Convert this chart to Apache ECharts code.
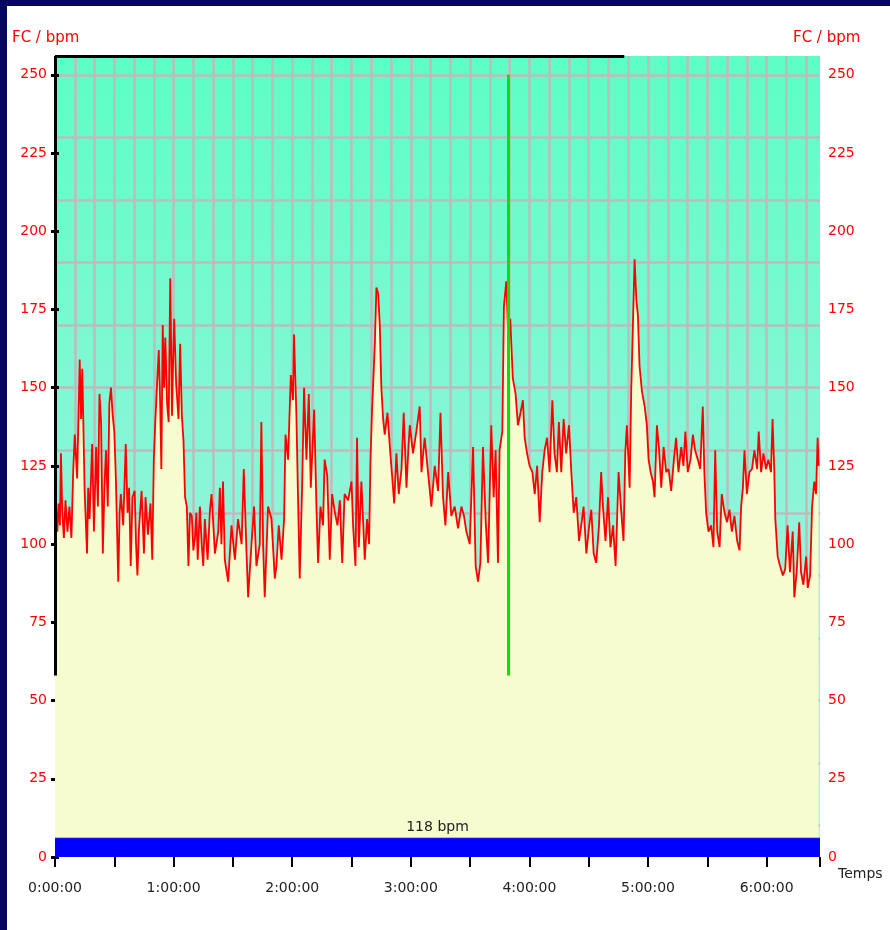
<!DOCTYPE html>
<html><head><meta charset="utf-8">
<script src="https://cdn.jsdelivr.net/npm/echarts@6/dist/echarts.min.js"></script>
<style>
html,body{margin:0;padding:0;background:#fff;}
#wrap{position:relative;width:890px;height:930px;background:#fff;overflow:hidden;}
#chart{position:absolute;left:0;top:0;width:890px;height:930px;}
.navyL{position:absolute;left:0;top:0;width:7px;height:930px;background:#06065e;}
.navyT{position:absolute;left:0;top:0;width:890px;height:6px;background:#06065e;}
</style></head>
<body><div id="wrap"><div id="chart"></div><div class="navyL"></div><div class="navyT"></div></div>
<script>
// ---- data (time in minutes, heart rate in bpm) ----
const timeMin = [
  // 0:00 - 1:16
  0,0.5,1.2,1.8,2.5,3,3.7,4.5,5.3,6.3, 7.3,8.3,9.2,10,11.2,12.5,13.2,13.8,15,16.2,
  16.8,17.5,18.8,19.7,20.8,21.7,22.5,23.3,24.2,25, 25.8,26.7,27.5,28.3,29.2,30,30.8,32,32.7,33.3,
  34.5,35.8,36.7,37.5,38.3,39.2,40.3,41,41.7,42.5, 43.8,45,45.8,47,48.3,49.2,50,50.8,51.7,52.5,
  53.2,53.8,54.5,55.2,55.8,56.7,57.5,58.3,59.2,59.8, 60.3,61.3,62.5,63.3,64.2,65,65.8,66.7,67.5,68.3,
  69.2,70,70.8,71.5,72.2,73.3,74.2,75,75.8,
  // 1:17 - 2:59
  77.2,78.4,79.2,80.9,82.6,83.4,84.2,85,85.9,87.6, 89.3,91,92.6,94.4,95.5,96.9,97.7,99.4,100.7,101.9,
  103.6,104.4,105.3,106.1,107.8,109.5,111.2,112,113.2,114.6, 115.9,116.6,117.9,119.3,120.4,120.9,122.1,122.9,123.8,125,
  126,127.2,128.4,129.4,131.1,132.3,133.1,134.3,135.6,136.4, 137.7,139,140.2,141.6,142.9,144.1,145.3,146.5,148.3,150,
  150.8,152,152.8,153.7,155,156.7,157.9,158.9,159.6,160.4, 161.8,162.6,163.5,164.3,165.1,166,166.8,168.2,169.4,170.5,
  171.6,172.7,173.9,175.3,176.4,177.8,178.9,
  // 3:00 - 4:44
  179.5,181.1,182.8,184.5,185.4,187,188.7,190.4,192.1,193.8, 195,196.3,197.5,198.9,200.5,202.2,203.9,205.6,206.9,208.1,
  209.8,211.5,212.8,214,215.2,216.5,217.9,219.1,220.7,221.9, 222.9,224.1,224.9,226.3,227.1,228.3,229.3,230.3,231.6,233,
  234.2,235.5,236.7,237.6,238.8,240.1,241.5,242.7,243.9,245.2, 246.5,247.7,248.9,250.2,251.6,252.7,253.9,254.9,256.1,257.3,
  258.6,260,261.2,262.4,263.7,265.1,266.2,267.4,268.8,270.1, 271.3,272.5,273.8,275.2,276.3,277.2,278.5,279.8,281,282.3,
  283.6,
  // 4:45 - 6:26
  285.1,286.5,287.6,288.5,289.3,290.7,291.5,292.4,293.2,294.1, 294.9,295.7,296.9,298.3,299.4,300.3,301.3,302.5,303.3,304.5,
  305.5,306.7,307.9,309.2,310.4,311.7,313.1,314.2,315.4,316.8, 317.9,318.9,320.1,321.5,322.7,323.8,325.2,326.4,327.7,328.5,
  329.4,330.6,331.9,333.1,334,335,336.2,337.3,338.7,340, 341.2,342.4,343.7,345.1,346.3,347.1,348,348.8,350,351.3,
  352.6,353.8,355.2,356,357.2,358.4,359.7,360.9,362.2,363, 363.9,364.4,365.6,366.8,368.2,369.4,370.6,371.8,373.2,374,
  375.2,376.5,377.4,378.6,380,380.8,382,383,384.1,385, 385.8,386.3
];
const heartRate = [
  95,112,104,113,106,129,110,102,114,104, 112,102,123,135,121,159,140,156,117,97,
  118,108,132,104,131,112,148,139,97,118, 130,112,145,150,141,136,121,88,110,116,
  106,132,110,118,93,115,117,100,90,105, 117,97,115,103,113,95,127,140,152,162,
  145,124,170,150,166,145,139,185,141,160, 172,151,140,164,141,133,115,112,93,110,
  109,98,102,110,95,112,100,93,108,
  95,111,116,97,104,118,100,120,95,88, 106,95,108,100,124,97,83,100,112,93,
  100,139,99,83,112,108,89,93,106,95, 108,135,127,154,146,167,142,116,89,118,
  150,127,148,118,143,111,94,112,106,127, 122,95,116,110,106,114,94,116,114,120,
  106,93,134,99,120,95,108,100,127,143, 164,182,180,170,150,140,135,142,131,122,
  113,129,116,124,142,118,132,
  138,129,136,144,123,134,123,112,125,117, 142,115,106,123,109,112,105,112,109,104,
  100,131,93,88,94,131,107,94,138,115, 130,94,130,136,176,184,166,172,153,148,
  138,142,146,134,129,125,123,116,125,107, 123,130,134,123,146,129,123,139,123,140,
  129,138,123,110,115,101,106,112,97,105, 111,97,94,106,123,112,101,115,99,106,
  93,
  123,110,101,129,138,118,149,171,191,178, 173,157,149,144,138,127,123,120,115,138,
  131,118,131,123,124,117,127,134,123,131, 125,136,123,127,135,130,127,124,144,123,
  110,104,106,99,130,104,99,116,110,107, 111,104,109,101,98,112,118,130,116,123,
  124,130,124,136,123,129,124,127,123,140, 123,108,96,93,90,92,106,91,104,83,
  91,107,91,87,96,86,90,112,120,116, 134,125
];
const yTicks = [0,25,50,75,100,125,150,175,200,225,250];
const xTickMinutes = [0,30,60,90,120,150,180,210,240,270,300,330,360,387];
const xLabelMinutes = [0,60,120,180,240,300,360];
const yAxisTitle = 'FC / bpm';
const xAxisTitle = 'Temps';
const averageLabel = '118 bpm';
const cursorMinute = 229.5;   // green cursor
const cursorLow = 58;         // lower end of cursor / left marker
const cursorHigh = 250;
const topMarkerEnd = 288;     // end of black top marker
const xMax = 387, yMax = 256;
const bandTop = 6;

const hrPoints = timeMin.map((t, i) => [t, heartRate[i]]);
const pad = n => String(n).padStart(2, '0');
const fmt = v => Math.floor(v / 60) + ':' + pad(Math.round(v % 60)) + ':00';
const font = 'DejaVu Sans';
const gridGray = '#bcbcbc';

const chart = echarts.init(document.getElementById('chart'), null, {renderer: 'canvas'});
chart.setOption({
  animation: false,
  title: [
    {text: yAxisTitle, left: 12, top: 31, padding: 0, textStyle: {color: '#ff0000', fontFamily: font, fontSize: 15, fontWeight: 'normal'}},
    {text: yAxisTitle, left: 793, top: 31, padding: 0, textStyle: {color: '#ff0000', fontFamily: font, fontSize: 15, fontWeight: 'normal'}}
  ],
  grid: {
    left: 55, right: 70, top: 56, bottom: 73, show: true, borderWidth: 0,
    backgroundColor: new echarts.graphic.LinearGradient(0, 0, 0, 1, [
      {offset: 0, color: '#5cffc5'}, {offset: 0.55, color: '#8cf5d8'}, {offset: 1, color: '#bff3e8'}
    ])
  },
  xAxis: [{
    type: 'value', min: 0, max: xMax, position: 'bottom',
    axisLine: {show: false},
    axisTick: {show: true, customValues: xTickMinutes, length: 10, lineStyle: {color: '#000', width: 2}},
    axisLabel: {customValues: xLabelMinutes, formatter: fmt, color: '#222', fontFamily: font, fontSize: 14, margin: 24},
    splitLine: {show: false},
    name: xAxisTitle, nameLocation: 'end', nameGap: 18,
    nameTextStyle: {color: '#222', fontFamily: font, fontSize: 14, verticalAlign: 'top', padding: [10, 0, 0, 0]}
  }, {
    type: 'value', min: 0, max: xMax, interval: 10, position: 'top',
    axisLine: {show: false}, axisTick: {show: false}, axisLabel: {show: false},
    splitLine: {show: true, showMinLine: false, showMaxLine: false, lineStyle: {color: gridGray, width: 2.5}}
  }],
  yAxis: [{
    type: 'value', min: 0, max: yMax, position: 'left',
    axisLine: {show: false},
    axisTick: {show: true, customValues: yTicks, length: 4, lineStyle: {color: '#000', width: 3}},
    axisLabel: {customValues: yTicks, color: '#ff0000', fontFamily: font, fontSize: 14, margin: 8},
    splitLine: {show: false}
  }, {
    type: 'value', min: 0, max: yMax, position: 'right',
    axisLine: {show: false},
    axisTick: {show: true, customValues: yTicks, length: 4, lineStyle: {color: '#000', width: 3}},
    axisLabel: {customValues: yTicks, color: '#ff0000', fontFamily: font, fontSize: 14, margin: 8},
    splitLine: {show: false}
  }, {
    type: 'value', min: 0, max: yMax, interval: 10, position: 'left',
    axisLine: {show: false}, axisTick: {show: false}, axisLabel: {show: false},
    splitLine: {show: true, showMinLine: false, showMaxLine: false,
      lineStyle: {color: [gridGray, 'rgba(0,0,0,0)'], width: 2.5}}
  }],
  series: [{
    type: 'line', name: 'FC', xAxisIndex: 0, yAxisIndex: 0, data: hrPoints,
    symbol: 'none', silent: true, z: 2,
    lineStyle: {color: '#ff0000', width: 1.8},
    areaStyle: {color: '#f6fbd0', opacity: 1}
  }, {
    type: 'line', name: 'moyenne', xAxisIndex: 0, yAxisIndex: 0,
    data: [[0, bandTop], [xMax, bandTop]],
    symbol: 'none', silent: true, z: 3, clip: false,
    lineStyle: {color: '#0000ff', width: 1},
    areaStyle: {color: '#0000ff', opacity: 1},
    markArea: {
      silent: true, z: 6,
      itemStyle: {color: 'rgba(0,0,0,0)'},
      label: {show: true, position: 'top', formatter: averageLabel, color: '#222', fontFamily: font, fontSize: 14, distance: 4},
      data: [[{coord: [0, 0]}, {coord: [xMax, bandTop]}]]
    },
    markLine: {
      silent: true, symbol: ['none', 'none'], label: {show: false},
      data: [
        [{coord: [0, cursorLow], lineStyle: {color: '#000', width: 3, type: 'solid'}}, {coord: [0, yMax]}],
        [{coord: [0, yMax], lineStyle: {color: '#000', width: 3, type: 'solid'}}, {coord: [topMarkerEnd, yMax]}],
        [{coord: [cursorMinute, cursorLow], lineStyle: {color: '#00e600', width: 3, type: 'solid'}}, {coord: [cursorMinute, cursorHigh]}]
      ]
    }
  }]
});
</script>
</body></html>
